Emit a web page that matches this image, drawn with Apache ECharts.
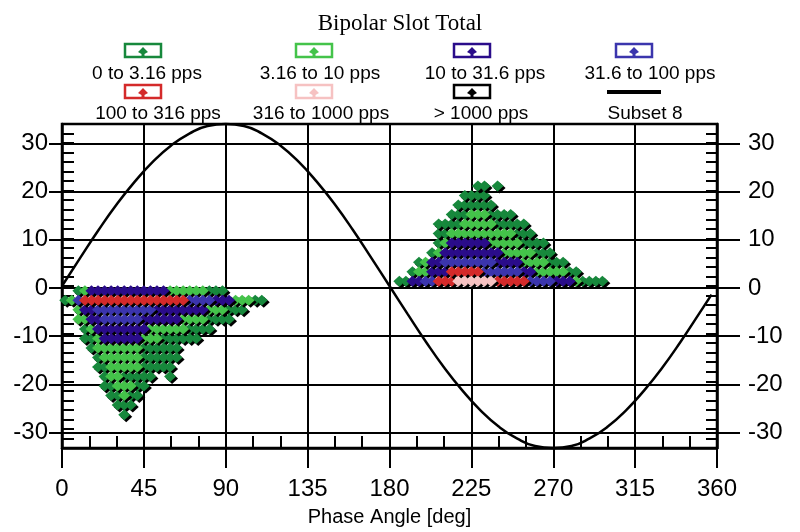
<!DOCTYPE html>
<html>
<head>
<meta charset="utf-8">
<script src="https://cdn.jsdelivr.net/npm/echarts@6/dist/echarts.min.js"></script>
<style>
html, body { margin: 0; padding: 0; background: #fff; }
#chart { width: 800px; height: 532px; }
</style>
</head>
<body>
<div id="chart"></div>
<script>
// phase bins are 3.6 deg wide, amplitude rows are 2 units apart
const phaseStep = 3.6;

const classNames = ['0 to 3.16 pps', '3.16 to 10 pps', '10 to 31.6 pps', '31.6 to 100 pps',
  '100 to 316 pps', '316 to 1000 pps', '> 1000 pps'];
const classCodes = ['g', 'l', 'i', 'b', 'r', 'p', 'k'];
const classColors = ['#17883c', '#44c34a', '#2a0c8a', '#3b35ad', '#d42a2a', '#f6c2c2', '#000000'];

// negative half cycle (first bin index, one letter per bin, '.' = empty)
const negAmp = [-1, -3, -5, -7, -9, -11, -13, -15, -17, -19, -21, -23, -25, -27];
const negStart = [2, 0, 2, 2, 3, 3, 4, 5, 5, 6, 6, 7, 8, 9];
const negCodes = [
  'gliiiiiiiiiiiillllllggg',
  'glbrrrrrrrrrrrrrrrrbbbbiiilllgg',
  'liibbbbbbbbbiiiiiiiilllggg',
  'lliibbbbbbiiiiiillllgggg',
  'gliiiiiiiillllllgggg',
  'ggliiiiiilllgggggg',
  'glllllllgggggg',
  'gllllllgggggg',
  'gglllllggggg',
  'gllggggg..g',
  'gglllgg',
  'gglgg',
  'ggg',
  'g'
];

// positive half cycle
const posAmp = [1, 3, 5, 7, 9, 11, 13, 15, 17, 19, 21];
const posStart = [51, 53, 54, 56, 57, 57, 57, 59, 60, 61, 63];
const posCodes = [
  'ggiibbrrrpppppprrrrrbbbbiiilgggg',
  'glliiirrrrrbbbbbbiilllllgg',
  'gliibbbbbbbbiiiillllggg',
  'gliiiiiiiiilllllggg',
  'gliiiiiilllllgggg',
  'ggllllllllllggg',
  'gggglllllggggg',
  'ggglllgggg',
  'gggggg',
  'gggg',
  'gg.g'
];

// Subset 8 reference curve
const sineDeg = [0, 10, 20, 30, 40, 50, 60, 70, 80, 90, 100, 110, 120, 130, 140, 150, 160, 170, 180,
  190, 200, 210, 220, 230, 240, 250, 260, 270, 280, 290, 300, 310, 320, 330, 340, 350, 357];
const sineVal = [0, 5.9, 11.7, 17.1, 21.9, 26.1, 29.5, 32.0, 33.6, 34.0, 33.6, 32.0, 29.5, 26.1, 21.9, 17.1, 11.7, 5.9, 0,
  -5.9, -11.7, -17.1, -21.9, -26.1, -29.5, -32.0, -33.6, -34.0, -33.6, -32.0, -29.5, -26.1, -21.9, -17.1, -11.7, -5.9, -1.8];

const legendIconX = [143, 314, 472, 634];
const legendIconY = [51, 92];
const legendTextX = [[147, 320, 485, 650], [158, 321, 481, 645]];
const legendTextY = [74, 114];

function buildPoints() {
  const pts = classCodes.map(() => []);
  function addRows(amp, start, codes) {
    for (let r = 0; r < amp.length; r++) {
      for (let j = 0; j < codes[r].length; j++) {
        const c = classCodes.indexOf(codes[r][j]);
        if (c < 0) continue;
        pts[c].push([(start[r] + j + 0.5) * phaseStep, amp[r]]);
      }
    }
  }
  addRows(negAmp, negStart, negCodes);
  addRows(posAmp, posStart, posCodes);
  return pts;
}

function legendGraphic() {
  const els = [];
  const names = classNames.concat(['Subset 8']);
  names.forEach((name, n) => {
    const row = Math.floor(n / 4), col = n % 4;
    const cx = legendIconX[col], cy = legendIconY[row];
    if (n < classColors.length) {
      const c = classColors[n];
      els.push({ type: 'rect', shape: { x: cx - 18, y: cy - 7, width: 36, height: 13 },
        style: { fill: 'none', stroke: c, lineWidth: 2.5 } });
      els.push({ type: 'polygon',
        shape: { points: [[cx, cy - 4], [cx + 5, cy + 1], [cx + 1.5, cy + 3], [cx + 1.5, cy + 7],
          [cx - 1.5, cy + 7], [cx - 1.5, cy + 3], [cx - 5, cy + 1]] },
        style: { fill: c } });
    } else {
      els.push({ type: 'line', shape: { x1: cx - 27, y1: cy, x2: cx + 27, y2: cy },
        style: { stroke: '#000', lineWidth: 4 } });
    }
    els.push({ type: 'text', x: legendTextX[row][col], y: legendTextY[row],
      style: { text: name, fontSize: 19, fontFamily: 'Liberation Sans', fill: '#000',
        align: 'center', verticalAlign: 'middle' } });
  });
  return els;
}

const myChart = echarts.init(document.getElementById('chart'));
const points = buildPoints();
const font = 'Liberation Sans';
const tickStyle = { color: '#000', width: 2 };
const noLine = { show: false, onZero: false };

const scatterSeries = classNames.map((name, c) => ({
  name: name,
  type: 'scatter',
  xAxisIndex: 0,
  yAxisIndex: 0,
  symbol: 'diamond',
  symbolSize: [12, 11],
  data: points[c],
  itemStyle: { color: classColors[c], shadowColor: '#000', shadowOffsetX: 2, shadowOffsetY: 2, shadowBlur: 0, opacity: 1 },
  emphasis: { disabled: true },
  z: 3
}));

const option = {
  backgroundColor: '#fff',
  animation: false,
  title: {
    text: 'Bipolar Slot Total',
    left: 'center',
    top: 7,
    textStyle: { fontFamily: 'Liberation Serif', fontSize: 23, fontWeight: 'normal', color: '#000' }
  },
  graphic: legendGraphic(),
  grid: [
    // data frame, amplitude -34..34
    { left: 62, right: 83, top: 124, bottom: 80, show: true, borderColor: '#000', borderWidth: 2.5, backgroundColor: 'transparent' },
    // labelled range -30..30, same horizontal extent
    { left: 62, right: 83, top: 143.3, bottom: 99.3 }
  ],
  xAxis: [
    {
      gridIndex: 0, type: 'value', min: 0, max: 360, interval: 45, position: 'bottom',
      axisLine: { show: true, onZero: false, lineStyle: { color: '#000', width: 2.5 } },
      axisTick: { show: true, inside: false, length: 20, lineStyle: tickStyle },
      axisLabel: { show: true, fontSize: 24, fontFamily: font, color: '#000', margin: 29 },
      splitLine: { show: true, lineStyle: { color: '#000', width: 2 } },
      name: 'Phase Angle [deg]', nameLocation: 'middle', nameGap: 59,
      nameTextStyle: { fontSize: 20, fontFamily: font, color: '#000' }
    },
    {
      gridIndex: 0, type: 'value', min: 0, max: 360, interval: 15, position: 'bottom',
      axisLine: noLine,
      axisTick: { show: true, inside: true, length: 12, lineStyle: tickStyle },
      axisLabel: { show: false },
      splitLine: { show: false }
    },
    {
      gridIndex: 1, type: 'value', min: 0, max: 360, show: false
    }
  ],
  yAxis: [
    {
      gridIndex: 0, type: 'value', min: -34, max: 34, interval: 2, position: 'left',
      axisLine: { show: true, onZero: false, lineStyle: { color: '#000', width: 2.5 } },
      axisTick: { show: true, inside: true, length: 12, lineStyle: tickStyle },
      axisLabel: { show: false },
      splitLine: { show: false }
    },
    {
      gridIndex: 0, type: 'value', min: -34, max: 34, interval: 2, position: 'right',
      axisLine: { show: true, onZero: false, lineStyle: { color: '#000', width: 2.5 } },
      axisTick: { show: true, inside: true, length: 11, lineStyle: tickStyle },
      axisLabel: { show: false },
      splitLine: { show: false }
    },
    {
      gridIndex: 1, type: 'value', min: -30, max: 30, interval: 10, position: 'left',
      axisLine: noLine,
      axisTick: { show: true, inside: false, length: 13, lineStyle: tickStyle },
      axisLabel: { show: true, fontSize: 24, fontFamily: font, color: '#000', margin: 14 },
      splitLine: { show: true, lineStyle: { color: '#000', width: 2 } }
    },
    {
      gridIndex: 1, type: 'value', min: -30, max: 30, interval: 10, position: 'right',
      axisLine: noLine,
      axisTick: { show: true, inside: false, length: 23, lineStyle: tickStyle },
      axisLabel: { show: true, fontSize: 24, fontFamily: font, color: '#000', margin: 31 },
      splitLine: { show: false }
    }
  ],
  series: scatterSeries.concat([{
    name: 'Subset 8',
    type: 'line',
    xAxisIndex: 0,
    yAxisIndex: 0,
    data: sineDeg.map((d, i) => [d, sineVal[i]]),
    smooth: true,
    showSymbol: false,
    clip: false,
    lineStyle: { color: '#000', width: 2.5 },
    emphasis: { disabled: true },
    z: 4
  }])
};

myChart.setOption(option);
</script>
</body>
</html>
